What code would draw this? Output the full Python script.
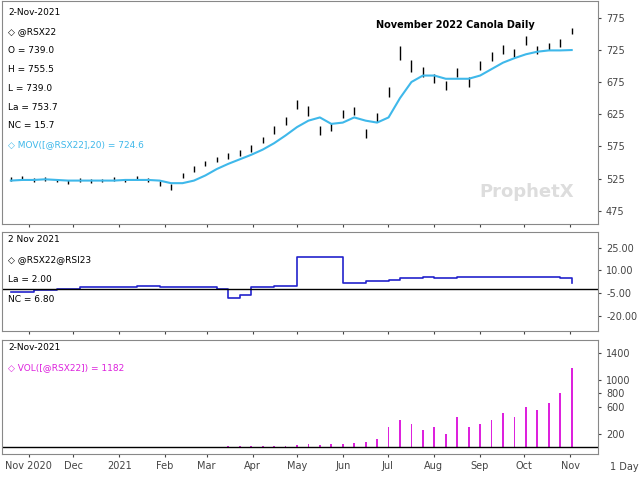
import numpy as np, pandas as pd, matplotlib
matplotlib.use("Agg")
import matplotlib.pyplot as plt, seaborn as sns
import matplotlib.dates as mdates

dates = pd.date_range(start="2020-10-20", end="2021-11-02", periods=50)
close = [524,526,523,525,522,520,523,521,522,524,522,526,523,518,512,530,540,548,555,560,565,
         572,585,600,615,640,630,600,605,625,630,595,620,660,720,700,690,680,670,690,675,
         700,715,725,720,740,725,730,735,753.7]
spread = [6,5,5,6,5,6,5,6,5,6,5,6,5,8,9,8,8,8,8,9,9,10,10,12,12,14,14,14,12,12,12,14,14,
          16,22,18,16,14,14,14,14,14,14,14,12,14,12,12,12,10]
ma = [522,523,523,524,523,522,522,522,522,522,523,523,523,522,518,518,522,530,540,548,555,
      562,570,580,592,605,615,620,610,612,620,615,612,620,650,675,685,685,680,680,680,
      685,695,705,712,718,722,724,724,724.6]
rsi = [-4,-4,-3,-3,-2,-2,-1,-1,-1,-1,-1,0,0,-1,-1,-1,-1,-1,-2,-8,-6,-1,-1,0,0,19,19,19,19,
       2,2,3,3,4,5,5,6,5,5,6,6,6,6,6,6,6,6,6,5,2]
vol = [0,0,0,0,0,0,0,0,0,0,0,0,0,0,0,0,0,0,0,10,10,15,10,20,20,30,40,30,40,40,60,80,
       120,300,400,350,250,300,200,450,300,350,400,500,450,600,550,650,800,1182]

df = pd.DataFrame(dict(date=dates, close=close, ma=ma, rsi=rsi, vol=vol))
df["hi"] = df.close + np.array(spread)/2
df["lo"] = df.close - np.array(spread)/2

fig = plt.figure(figsize=(6.4,4.8), dpi=100)
gs = fig.add_gridspec(3,1,height_ratios=[225,100,115],hspace=0.06,left=0.003,right=0.935,top=0.997,bottom=0.055)
ax1, ax2, ax3 = [fig.add_subplot(gs[i]) for i in range(3)]
for ax in (ax1,ax2,ax3):
    ax.yaxis.tick_right(); ax.tick_params(labelsize=7, length=2, colors="#444")
    ax.set_xlim(pd.Timestamp("2020-10-14"), pd.Timestamp("2021-11-20"))
    for s in ax.spines.values(): s.set_color("#888")
ax1.vlines(df.date, df.lo, df.hi, color="black", lw=1)
sns.lineplot(data=df, x="date", y="ma", ax=ax1, color="#3fb8ea", lw=1.5)
ax1.set_ylim(455, 800); ax1.set_yticks([475,525,575,625,675,725,775])
ax1.text(0.76,0.88,"November 2022 Canola Daily",transform=ax1.transAxes,fontsize=7,fontweight="bold",ha="center")
ax1.text(0.88,0.12,"ProphetX",transform=ax1.transAxes,fontsize=13,color="#ddd",fontweight="bold",ha="center")
lab = ["2-Nov-2021","◇ @RSX22","O = 739.0","H = 755.5","L = 739.0","La = 753.7","NC = 15.7"]
for i,t in enumerate(lab):
    ax1.text(0.01,0.97-i*0.085,t,transform=ax1.transAxes,fontsize=6.5,va="top")
ax1.text(0.01,0.97-7*0.085,"◇ MOV([@RSX22],20) = 724.6",transform=ax1.transAxes,fontsize=6.5,va="top",color="#3fb8ea")

sns.lineplot(data=df, x="date", y="rsi", ax=ax2, color="#2222cc", lw=1.2, drawstyle="steps-post")
ax2.axhline(-2, color="black", lw=1)
ax2.set_ylim(-30,35); ax2.set_yticks([-20,-5,10,25]); ax2.set_yticklabels(["-20.00","-5.00","10.00","25.00"])
for i,t in enumerate(["2 Nov 2021","◇ @RSX22@RSI23","La = 2.00","NC = 6.80"]):
    ax2.text(0.01,0.97-i*0.2,t,transform=ax2.transAxes,fontsize=6.5,va="top")

ax3.bar(df.date, df.vol, width=1.2, color="#dd22dd")
ax3.axhline(0, color="black", lw=1)
ax3.set_ylim(-100,1600); ax3.set_yticks([200,600,800,1000,1400])
ax3.text(0.01,0.97,"2-Nov-2021",transform=ax3.transAxes,fontsize=6.5,va="top")
ax3.text(0.01,0.80,"◇ VOL([@RSX22]) = 1182",transform=ax3.transAxes,fontsize=6.5,va="top",color="#dd22dd")
for ax in (ax1,ax2,ax3):
    ax.set_xlabel(""); ax.set_ylabel(""); ax.xaxis.set_major_locator(mdates.MonthLocator())
    ax.grid(False)
ax1.set_xticklabels([]); ax2.set_xticklabels([])
ax3.xaxis.set_major_formatter(plt.FuncFormatter(lambda v,p: (lambda d: d.strftime("%b %Y") if d.month==11 and d.year==2020 else ("2021" if d.month==1 else d.strftime("%b")))(mdates.num2date(v))))
ax3.tick_params(axis="x", labelsize=7)
fig.text(0.975,0.02,"1 Day",fontsize=7,ha="center",color="#444")
fig.savefig("out.png", dpi=100, facecolor="white")
